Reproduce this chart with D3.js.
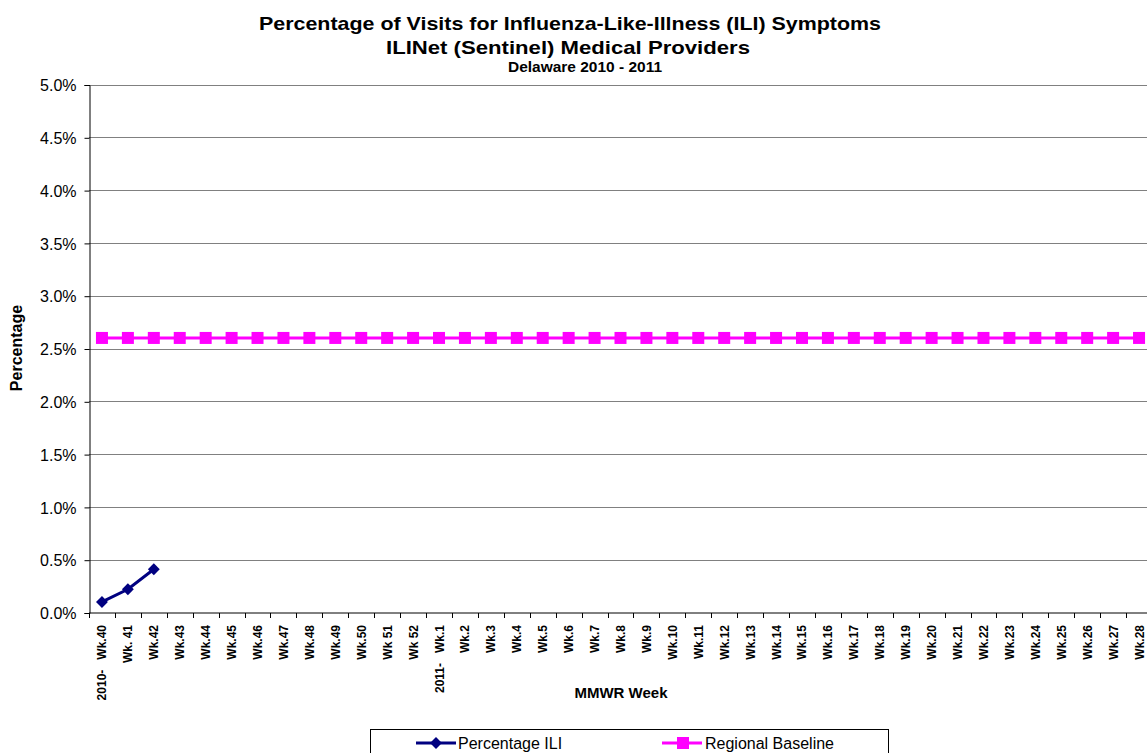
<!DOCTYPE html>
<html lang="en">
<head>
<meta charset="UTF-8">
<title>ILI - Delaware 2010 - 2011</title>
<script src="https://cdn.jsdelivr.net/npm/d3@7"></script>
<style>
html, body {
  margin: 0;
  padding: 0;
  background-color: white;
}

svg {
  display: block;
  font-family: 'Liberation Sans', Arial, sans-serif;
}

.title {
  font-weight: bold;
  text-anchor: middle;
  fill: black;
}

.y-axis text {
  font-size: 16px;
  fill: black;
}

.x-axis text {
  font-size: 12px;
  font-weight: bold;
  fill: black;
  white-space: pre;
}

.grid line {
  stroke: #808080;
  stroke-width: 1px;
}

.axis-title {
  font-weight: bold;
  font-size: 15px;
  text-anchor: middle;
}

.legend text {
  font-size: 16px;
}
</style>
</head>
<body>
<div id="chart"></div>

<script>

// --------------------------------------
// Data
// --------------------------------------

const weeks = ["2010-   Wk.40", "Wk. 41", "Wk.42", "Wk.43", "Wk.44", "Wk.45", "Wk.46",
  "Wk.47", "Wk.48", "Wk.49", "Wk.50", "Wk 51", "Wk 52", "2011-   Wk.1", "Wk.2", "Wk.3",
  "Wk.4", "Wk.5", "Wk.6", "Wk.7", "Wk.8", "Wk.9", "Wk.10", "Wk.11", "Wk.12", "Wk.13",
  "Wk.14", "Wk.15", "Wk.16", "Wk.17", "Wk.18", "Wk.19", "Wk.20", "Wk.21", "Wk.22",
  "Wk.23", "Wk.24", "Wk.25", "Wk.26", "Wk.27", "Wk.28"];

// percentage ILI, only the first three weeks are reported
const iliValues = [0.10, 0.22, 0.41];

const baselineValues = [2.6, 2.6, 2.6, 2.6, 2.6, 2.6, 2.6, 2.6, 2.6, 2.6, 2.6, 2.6, 2.6,
  2.6, 2.6, 2.6, 2.6, 2.6, 2.6, 2.6, 2.6, 2.6, 2.6, 2.6, 2.6, 2.6, 2.6, 2.6, 2.6, 2.6,
  2.6, 2.6, 2.6, 2.6, 2.6, 2.6, 2.6, 2.6, 2.6, 2.6, 2.6];

const yTicks = [0, 0.5, 1.0, 1.5, 2.0, 2.5, 3.0, 3.5, 4.0, 4.5, 5.0];

const titleLines = ["Percentage of Visits for Influenza-Like-Illness (ILI) Symptoms",
  "ILINet (Sentinel) Medical Providers"];
const subTitle = "Delaware 2010 - 2011";

// --------------------------------------
// Size and margin
// --------------------------------------

let totalWidth = 1147;
let totalHeight = 753;
let plot = {left: 89, right: 1152, top: 84.5, bottom: 612.5};

let svg = d3.select("#chart")
  .append("svg")
  .attr("width", totalWidth)
  .attr("height", totalHeight);

// --------------------------------------
// Scales
// --------------------------------------

let x = d3.scaleBand()
  .domain(weeks)
  .range([plot.left, plot.right]);

let y = d3.scaleLinear()
  .domain([0, 5])
  .range([plot.bottom, plot.top]);

// --------------------------------------
// Titles
// --------------------------------------

svg.append("text").attr("class", "title")
  .attr("x", 570).attr("y", 30)
  .style("font-size", "19px")
  .attr("textLength", 622)
  .attr("lengthAdjust", "spacingAndGlyphs")
  .text(titleLines[0]);

svg.append("text").attr("class", "title")
  .attr("x", 568).attr("y", 54)
  .style("font-size", "19px")
  .attr("textLength", 364)
  .attr("lengthAdjust", "spacingAndGlyphs")
  .text(titleLines[1]);

svg.append("text").attr("class", "title")
  .attr("x", 585).attr("y", 72)
  .style("font-size", "15px")
  .attr("textLength", 154)
  .attr("lengthAdjust", "spacingAndGlyphs")
  .text(subTitle);

// --------------------------------------
// Grid and axes
// --------------------------------------

svg.append("g")
  .attr("class", "grid")
  .selectAll("line")
  .data(yTicks.filter(d => d > 0))
  .join("line")
  .attr("x1", plot.left)
  .attr("x2", totalWidth)
  .attr("y1", d => Math.round(y(d)) + 0.5)
  .attr("y2", d => Math.round(y(d)) + 0.5);

const yAxis = svg.append("g")
  .attr("class", "y-axis")
  .attr("transform", `translate(${plot.left + 0.5},0.5)`)
  .call(d3.axisLeft(y)
    .tickValues(yTicks)
    .tickFormat(d => d.toFixed(1) + "%")
    .tickSizeOuter(0)
    .tickSize(5)
    .tickPadding(8));

yAxis.selectAll("line").attr("stroke", "black");
yAxis.select(".domain").attr("stroke", "black");
yAxis.selectAll("text").attr("dy", "0.36em");

const xAxis = svg.append("g")
  .attr("class", "x-axis")
  .attr("transform", `translate(0,${plot.bottom + 0.5})`);

xAxis.append("line")
  .attr("x1", plot.left)
  .attr("x2", totalWidth)
  .attr("stroke", "black");

// tick marks sit between categories
xAxis.selectAll(".tick-mark")
  .data(weeks)
  .join("line")
  .attr("class", "tick-mark")
  .attr("x1", d => Math.round(x(d)) + 0.5)
  .attr("x2", d => Math.round(x(d)) + 0.5)
  .attr("y1", 0)
  .attr("y2", 5)
  .attr("stroke", "black");

xAxis.selectAll(".tick-label")
  .data(weeks)
  .join("text")
  .attr("class", "tick-label")
  .attr("text-anchor", "end")
  .attr("transform", d => `translate(${x(d) + x.bandwidth() / 2 + 4.5},12) rotate(-90)`)
  .text(d => d);

svg.append("text")
  .attr("class", "axis-title")
  .attr("x", 621)
  .attr("y", 698)
  .text("MMWR Week");

svg.append("text")
  .attr("class", "axis-title")
  .style("font-size", "16px")
  .attr("transform", "translate(22,348) rotate(-90)")
  .text("Percentage");

// --------------------------------------
// Series
// --------------------------------------

const cx = (d, i) => x(weeks[i]) + x.bandwidth() / 2;

let line = d3.line()
  .x((d, i) => cx(d, i))
  .y(d => y(d));

svg.append("path")
  .datum(baselineValues)
  .attr("fill", "none")
  .attr("stroke", "#FF00FF")
  .attr("stroke-width", 3)
  .attr("d", line);

svg.append("g")
  .selectAll("rect")
  .data(baselineValues)
  .join("rect")
  .attr("x", (d, i) => cx(d, i) - 6)
  .attr("y", d => y(d) - 6)
  .attr("width", 12)
  .attr("height", 12)
  .attr("fill", "#FF00FF");

svg.append("path")
  .datum(iliValues)
  .attr("fill", "none")
  .attr("stroke", "#000080")
  .attr("stroke-width", 3)
  .attr("d", line);

const diamond = d3.symbol().type(d3.symbolDiamond2).size(90);

svg.append("g")
  .selectAll("path")
  .data(iliValues)
  .join("path")
  .attr("transform", (d, i) => `translate(${cx(d, i)},${y(d)})`)
  .attr("d", diamond)
  .attr("fill", "#000080");

// --------------------------------------
// Legend
// --------------------------------------

let legend = svg.append("g").attr("class", "legend");

legend.append("rect")
  .attr("x", 370.5)
  .attr("y", 729.5)
  .attr("width", 518)
  .attr("height", 40)
  .attr("fill", "white")
  .attr("stroke", "black");

legend.append("line")
  .attr("x1", 416).attr("x2", 456)
  .attr("y1", 743).attr("y2", 743)
  .attr("stroke", "#000080").attr("stroke-width", 3);

legend.append("path")
  .attr("transform", "translate(436,743)")
  .attr("d", diamond)
  .attr("fill", "#000080");

legend.append("text")
  .attr("x", 458).attr("y", 749)
  .text("Percentage ILI");

legend.append("line")
  .attr("x1", 662).attr("x2", 702)
  .attr("y1", 743).attr("y2", 743)
  .attr("stroke", "#FF00FF").attr("stroke-width", 3);

legend.append("rect")
  .attr("x", 677).attr("y", 737)
  .attr("width", 12).attr("height", 12)
  .attr("fill", "#FF00FF");

legend.append("text")
  .attr("x", 705).attr("y", 749)
  .text("Regional Baseline");

</script>
</body>
</html>
